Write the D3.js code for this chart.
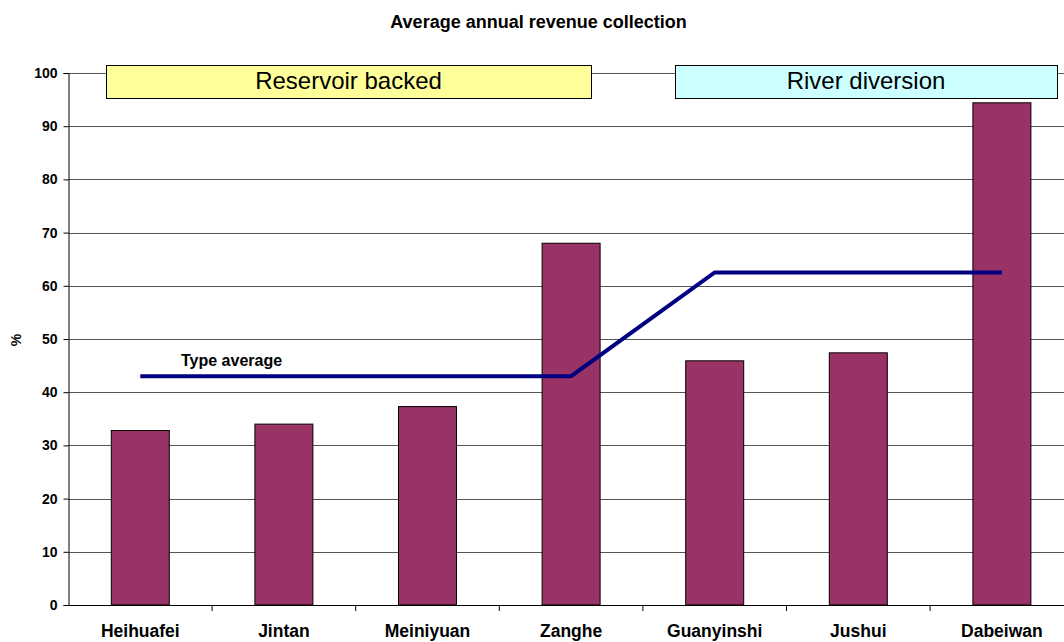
<!DOCTYPE html>
<html><head><meta charset="utf-8">
<script src="https://cdn.jsdelivr.net/npm/d3@7"></script>
<style>body{margin:0;background:#fff;}svg{display:block;font-family:"Liberation Sans",Arial,sans-serif;}</style>
</head><body><svg id="c" width="1064" height="642"></svg>
<script>
const categories = ["Heihuafei","Jintan","Meiniyuan","Zanghe","Guanyinshi","Jushui","Dabeiwan"];
const revenue = [32.8, 34.0, 37.3, 68.0, 45.9, 47.4, 94.4];
const typeAverage = [43, 43, 43, 43, 62.5, 62.5, 62.5];
const yTicks = [0,10,20,30,40,50,60,70,80,90,100];
const groups = [{label:"Reservoir backed", from:0, to:3}, {label:"River diversion", from:4, to:6}];

(function(){
const svg = d3.select("#c");
const mLeft = 68.5, mBottom = 605, mTop = 73, band = 143.6;
const x = d3.scaleBand().domain(categories).range([mLeft, mLeft + band*categories.length]).paddingInner(0).paddingOuter(0);
const y = d3.scaleLinear().domain([0,100]).range([mBottom, mTop]);

svg.append("text").attr("x",538.5).attr("y",27.5).attr("text-anchor","middle")
  .attr("font-size",18).attr("font-weight","bold").text("Average annual revenue collection");

// gridlines
svg.append("g").selectAll("line").data(yTicks.filter(d=>d>0)).join("line")
  .attr("x1",mLeft).attr("x2",1064).attr("y1",d=>Math.round(y(d))+0.5).attr("y2",d=>Math.round(y(d))+0.5)
  .attr("stroke","#555").attr("stroke-width",1);

// y axis
const ya = svg.append("g").attr("transform",`translate(${mLeft},0)`)
  .call(d3.axisLeft(y).tickValues(yTicks).tickSize(5).tickPadding(6));
ya.select(".domain").attr("stroke","#000");
ya.selectAll(".tick line").attr("stroke","#000");
ya.selectAll(".tick text").attr("font-size",14).attr("font-weight","bold").attr("fill","#000")
  .attr("font-family","Liberation Sans, Arial, sans-serif");

svg.append("text").attr("transform","translate(21,340) rotate(-90)").attr("text-anchor","middle")
  .attr("font-size",14).attr("font-weight","bold").text("%");

// bars
const bw = 58;
svg.append("g").selectAll("rect").data(categories).join("rect")
  .attr("x",(d)=>x(d)+x.bandwidth()/2-bw/2).attr("width",bw)
  .attr("y",(d,i)=>y(revenue[i])).attr("height",(d,i)=>mBottom-y(revenue[i]))
  .attr("fill","#993366").attr("stroke","#000").attr("stroke-width",1);

// x axis
const xa = svg.append("g").attr("transform",`translate(0,${mBottom})`)
  .call(d3.axisBottom(x).tickSize(0).tickPadding(20));
xa.select(".domain").attr("stroke","#000");
xa.selectAll(".tick text").attr("font-size",17.5).attr("font-weight","bold").attr("fill","#000")
  .attr("font-family","Liberation Sans, Arial, sans-serif");
svg.append("g").selectAll("line").data(categories.slice(1)).join("line")
  .attr("x1",d=>x(d)).attr("x2",d=>x(d)).attr("y1",mBottom).attr("y2",mBottom+6).attr("stroke","#000");

// type average line
const line = d3.line().x((d,i)=>x(categories[i])+x.bandwidth()/2).y(d=>y(d));
svg.append("path").datum(typeAverage).attr("d",line).attr("fill","none")
  .attr("stroke","#000080").attr("stroke-width",4);
svg.append("text").attr("x",181).attr("y",366).attr("font-size",16).attr("font-weight","bold").text("Type average");

// group boxes
const boxes = [{x1:106,x2:591,fill:"#ffff99"},{x1:675,x2:1057,fill:"#ccffff"}];
groups.forEach((g,i)=>{
  const b = boxes[i];
  svg.append("rect").attr("x",b.x1+0.5).attr("y",65.5).attr("width",b.x2-b.x1).attr("height",33)
    .attr("fill",b.fill).attr("stroke","#000").attr("stroke-width",1);
  svg.append("text").attr("x",(b.x1+b.x2)/2).attr("y",89).attr("text-anchor","middle")
    .attr("font-size",24).text(g.label);
});
})();
</script></body></html>
